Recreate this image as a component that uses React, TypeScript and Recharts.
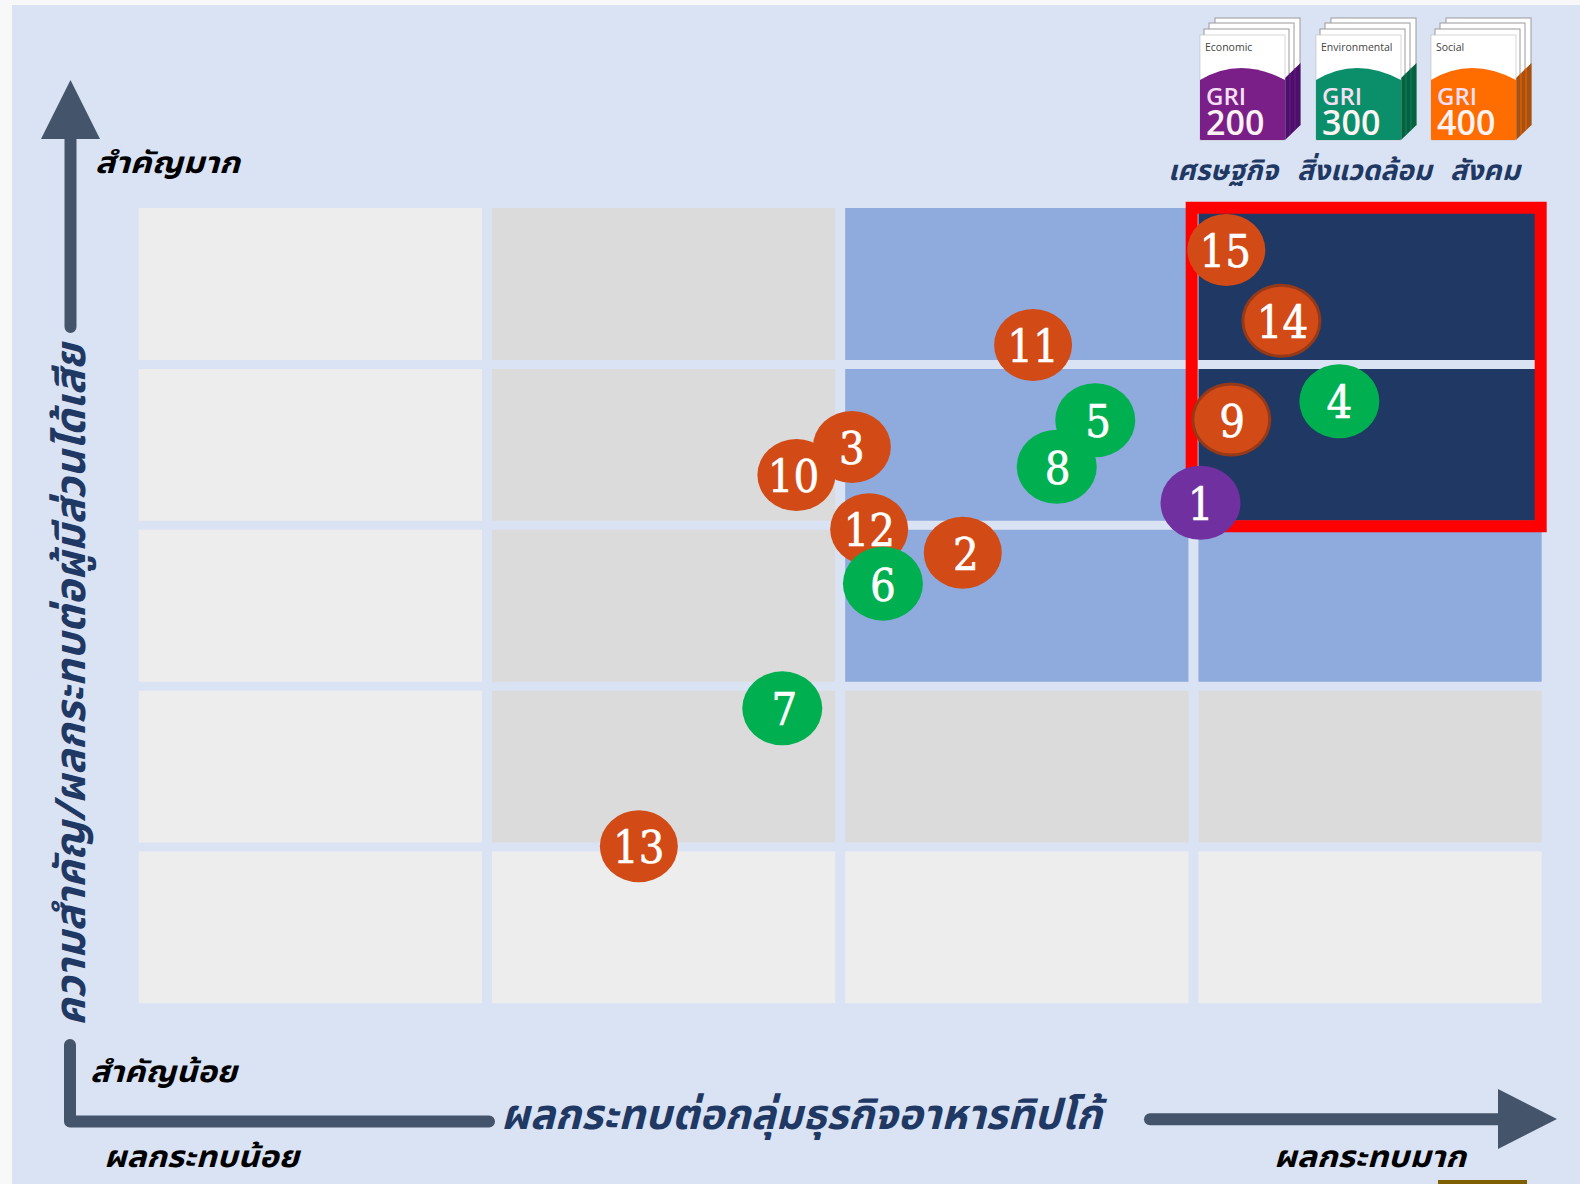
import { ScatterChart, Scatter, XAxis, YAxis, ReferenceArea } from "recharts"

// grid: rows from top to bottom, columns from left to right
const COLUMNS = [0, 1, 2, 3]
const ROWS = [4, 3, 2, 1, 0]
const CELL_LEVELS = [
  ["low", "mid", "high", "top"],
  ["low", "mid", "high", "top"],
  ["low", "mid", "high", "high"],
  ["low", "mid", "mid", "mid"],
  ["low", "low", "low", "low"],
]

const economicIds = [1]
const economicImpact = [3.02]
const economicImportance = [3.14]

const environmentIds = [4, 5, 8, 6, 7]
const environmentImpact = [3.413, 2.722, 2.613, 2.121, 1.836]
const environmentImportance = [3.771, 3.653, 3.364, 2.637, 1.862]

const socialIds = [15, 14, 9, 11, 10, 3, 12, 2, 13]
const socialImpact = [3.093, 3.249, 3.107, 2.546, 1.876, 2.033, 2.082, 2.347, 1.43]
const socialImportance = [4.712, 4.272, 3.657, 4.121, 3.313, 3.487, 2.975, 2.83, 1.004]
const outlinedIds = [9, 14]

const books = [
  { title: "Economic", code: "200", main: "#7a1f87", dark: "#4b0f6c" },
  { title: "Environmental", code: "300", main: "#0b8f6b", dark: "#07603f" },
  { title: "Social", code: "400", main: "#ff6c00", dark: "#a8500f" },
]

const CELL_COLORS: Record<string, string> = {
  low: "#ededed",
  mid: "#dbdbdb",
  high: "#8faadc",
  top: "#203864",
}

// numbers don't sit dead centre in their bubbles in the original
const LABEL_NUDGE: Record<number, number> = { 10: -3, 15: -1, 14: 1, 2: 3, 5: 3, 8: 1, 9: 1, 7: 2 }

const THAI = "'Noto Sans Thai', 'DejaVu Sans', 'Noto Sans', sans-serif"
const NAVY = "#1f3864"
const ARROW = "#44546a"
const ORANGE = "#d24a16"

const toPoints = (ids: number[], xs: number[], ys: number[]) =>
  ids.map((id, i) => ({ id, x: xs[i], y: ys[i] }))

const Bubble = (props: any) => {
  const { cx, cy, payload, fill } = props
  const outlined = outlinedIds.includes(payload.id)
  return (
    <g>
      <ellipse
        cx={cx}
        cy={cy}
        rx={outlined ? 38.5 : fill === ORANGE ? 39 : 40}
        ry={outlined ? 35.5 : fill === ORANGE ? 36 : 37}
        fill={fill}
        stroke={outlined ? "#94391a" : "none"}
        strokeWidth={outlined ? 3 : 0}
      />
      <text
        x={cx + (LABEL_NUDGE[payload.id] ?? 0)}
        y={cy + 17}
        textAnchor="middle"
        fontFamily="'DejaVu Serif Condensed', 'DejaVu Serif', serif"
        fontSize={45}
        fill="#fff"
        stroke="#fff"
        strokeWidth={0.6}
      >
        {payload.id}
      </text>
    </g>
  )
}

const Book = ({ x, y, book }: { x: number; y: number; book: (typeof books)[number] }) => (
  <g transform={`translate(${x} ${y})`}>
    {[
      [15, 0, 107],
      [9, 5, 112],
      [4, 11, 117],
    ].map(([dx, dy, bottom]) => (
      <rect key={dx} x={dx} y={dy} width={85} height={bottom - dy} fill="#fff" stroke="#9a9a9a" strokeWidth={1} />
    ))}
    <path d="M85 60 L100.5 45 L100.5 107 L85 122 Z" fill={book.dark} />
    <path d="M90 55 L90 117 M95 50 L95 112" stroke={book.main} strokeWidth={0.8} fill="none" />
    <rect x={0} y={17} width={85} height={105} fill="#fff" stroke="#bcbcbc" strokeWidth={0.6} />
    <path d="M0 62 Q40 38 85 62 L85 121 Q85 122 84 122 L1 122 Q0 122 0 121 Z" fill={book.main} />
    <text x={5} y={33} fontFamily="'Open Sans', sans-serif" fontSize={10.5} fill="#444">
      {book.title}
    </text>
    <text x={6} y={87} fontFamily="'Open Sans', sans-serif" fontSize={24} fontWeight={600} fill="#f4dff4">
      GRI
    </text>
    <text x={6} y={117} fontFamily="'Open Sans', sans-serif" fontSize={34} fontWeight={600} fill="#fdf3f3">
      {book.code}
    </text>
  </g>
)

const Label = ({ x, y, width, size, fill = "#000", children }: any) => (
  <text
    x={x}
    y={y}
    fontFamily={THAI}
    fontSize={size}
    fontWeight={700}
    fontStyle="italic"
    fill={fill}
    textLength={width}
    lengthAdjust="spacingAndGlyphs"
  >
    {children}
  </text>
)

const Frame = () => (
  <svg width={1580} height={1184} style={{ position: "absolute", left: 0, top: 0 }}>
    <path d="M64.5 327 L64.5 139 L41 139 L70.5 80 L100 139 L76.5 139 L76.5 327 A6 6 0 0 1 64.5 327 Z" fill={ARROW} />
    <path d="M70 1045 L70 1121.5 L489 1121.5" fill="none" stroke={ARROW} strokeWidth={12} strokeLinecap="round" strokeLinejoin="round" />
    <path d="M1150 1119.3 L1500 1119.3" fill="none" stroke={ARROW} strokeWidth={12} strokeLinecap="round" />
    <path d="M1498 1089 L1557 1119 L1498 1149 Z" fill={ARROW} />

    {books.map((book, i) => (
      <Book key={book.code} x={[1200, 1316, 1431][i]} y={18} book={book} />
    ))}

    <Label x={95} y={173} width={145} size={30}>สำคัญมาก</Label>
    <Label x={90} y={1082} width={147} size={30}>สำคัญน้อย</Label>
    <Label x={104} y={1167} width={195} size={30}>ผลกระทบน้อย</Label>
    <Label x={1274} y={1167} width={192} size={30}>ผลกระทบมาก</Label>
    <Label x={501} y={1129} width={601} size={42} fill={NAVY}>ผลกระทบต่อกลุ่มธุรกิจอาหารทิปโก้</Label>
    <Label x={1168} y={180} width={110} size={28} fill={NAVY}>เศรษฐกิจ</Label>
    <Label x={1297} y={180} width={135} size={28} fill={NAVY}>สิ่งแวดล้อม</Label>
    <Label x={1450} y={180} width={70} size={28} fill={NAVY}>สังคม</Label>
    <g transform="translate(85 1026) rotate(-90)">
      <Label x={0} y={0} width={682} size={42} fill={NAVY}>ความสำคัญ/ผลกระทบต่อผู้มีส่วนได้เสีย</Label>
    </g>
  </svg>
)

export default function App() {
  return (
    <div style={{ position: "absolute", left: 0, top: 0, width: 1580, height: 1184, overflow: "hidden", background: "#f8f8f8" }}>
      <div style={{ position: "absolute", left: 12, top: 5, width: 1568, height: 1179, background: "#dae3f3" }} />
      <div style={{ position: "absolute", left: 1438, top: 1180, width: 89, height: 4, background: "#7f6000" }} />
      <Frame />
      <div style={{ position: "absolute", left: 0, top: 0 }}>
        <ScatterChart width={1580} height={1184} margin={{ top: 203.6, right: 33.3, bottom: 176.15, left: 133.7 }}>
          <XAxis type="number" dataKey="x" domain={[0, 4]} hide />
          <YAxis type="number" dataKey="y" domain={[0, 5]} hide />
          {ROWS.map((row, r) =>
            COLUMNS.map((col) => (
              <ReferenceArea
                key={`${row}-${col}`}
                x1={col + 0.0142}
                x2={col + 0.9858}
                y1={row + 0.028}
                y2={row + 0.972}
                fill={CELL_COLORS[CELL_LEVELS[r][col]]}
                fillOpacity={1}
                stroke="none"
              />
            ))
          )}
          <ReferenceArea x1={2.995} x2={3.983} y1={2.994} y2={4.974} fill="none" stroke="#ff0000" strokeWidth={12} />
          <Scatter
            data={toPoints(socialIds, socialImpact, socialImportance)}
            fill={ORANGE}
            shape={<Bubble />}
            isAnimationActive={false}
          />
          <Scatter
            data={toPoints(environmentIds, environmentImpact, environmentImportance)}
            fill="#00b050"
            shape={<Bubble />}
            isAnimationActive={false}
          />
          <Scatter
            data={toPoints(economicIds, economicImpact, economicImportance)}
            fill="#7030a0"
            shape={<Bubble />}
            isAnimationActive={false}
          />
        </ScatterChart>
      </div>
    </div>
  )
}
